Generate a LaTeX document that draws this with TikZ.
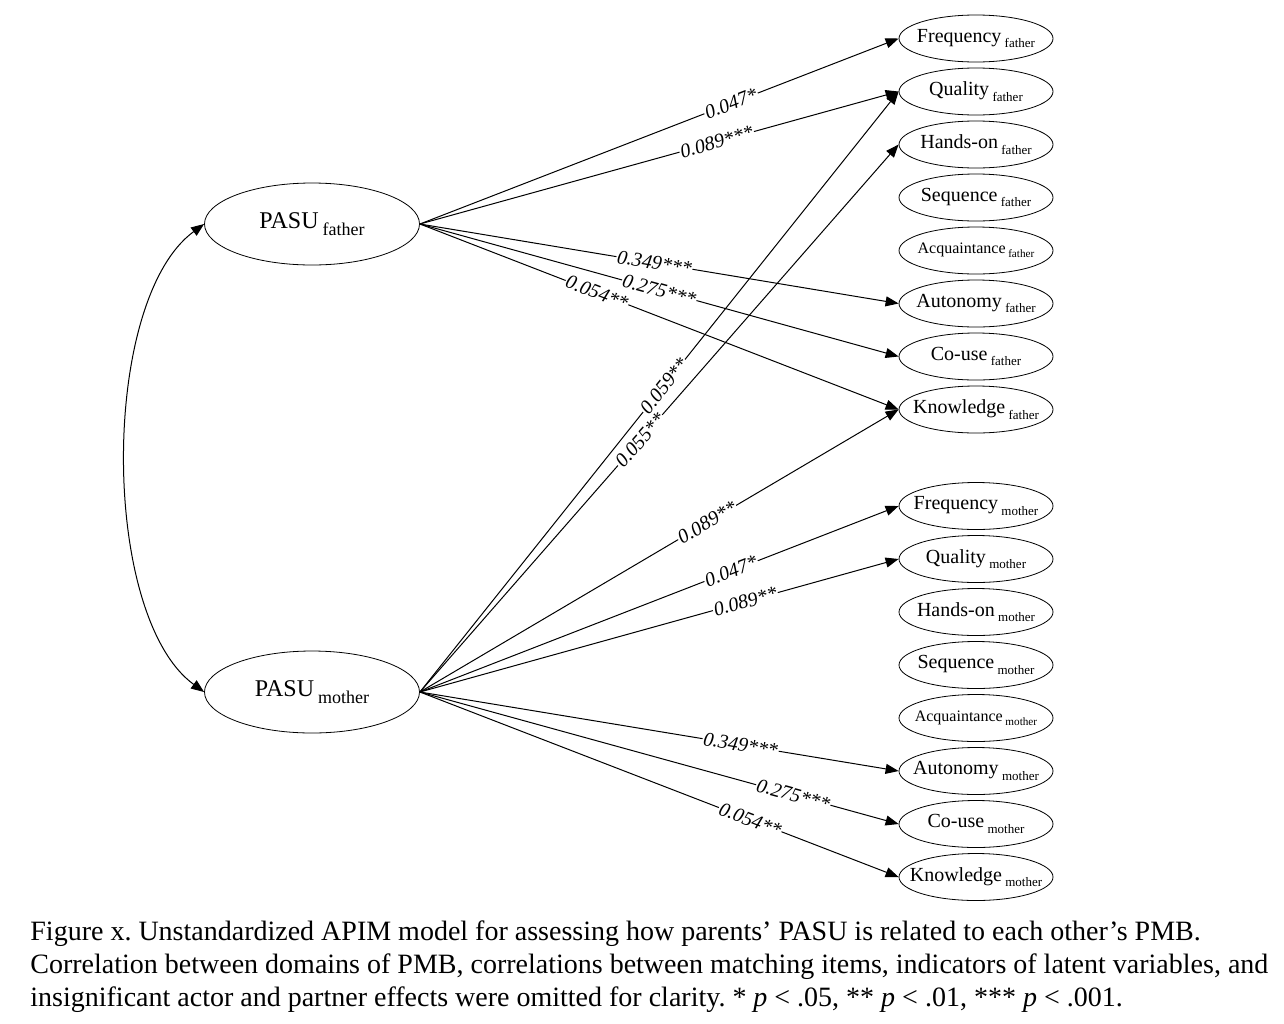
\documentclass[tikz,border=0pt]{standalone}
\usepackage{fontspec}
\setmainfont{Liberation Serif}
\usetikzlibrary{arrows.meta,shapes.geometric}

% lowered group tag after a variable name
\newcommand{\grp}[2][6.5pt]{\,\raisebox{-0.6ex}{\fontsize{#1}{#1}\selectfont #2}}
% item text that does not widen its ellipse
\newcommand{\itemtext}[1]{\makebox[0pt]{#1}}

\begin{document}
\begin{tikzpicture}[x=0.5pt,y=-0.5pt,
  latent/.style={draw,ellipse,inner sep=0pt,minimum width=107.5pt,minimum height=41pt,font=\fontsize{12pt}{14pt}\selectfont},
  item/.style={draw,ellipse,inner sep=0pt,minimum width=77pt,minimum height=23.5pt,font=\fontsize{10pt}{12pt}\selectfont},
  effect/.style={-{Triangle[length=6.5pt,width=5pt]},line width=0.5pt},
  coef/.style={sloped,fill=white,inner sep=0.5pt,font=\fontsize{10pt}{12pt}\selectfont\itshape}]
\useasboundingbox (0,0) rectangle (1284,1023);

% latent variables
\node[latent] (pf) at (312,224) {PASU\grp[9pt]{father}};
\node[latent] (pm) at (312,692) {PASU\grp[9pt]{mother}};

% father items
\node[item] (ffreq) at (976,38.5) {\itemtext{Frequency\grp{father}}};
\node[item] (fqual) at (976,91.5) {\itemtext{Quality\grp{father}}};
\node[item] (fhand) at (976,144.5) {\itemtext{Hands-on\grp{father}}};
\node[item] (fseq) at (976,197.5) {\itemtext{Sequence\grp{father}}};
\node[item,font=\fontsize{8pt}{10pt}\selectfont] (facq) at (976,250.5) {\itemtext{Acquaintance\grp[5.6pt]{father}}};
\node[item] (faut) at (976,303.5) {\itemtext{Autonomy\grp{father}}};
\node[item] (fcou) at (976,356.5) {\itemtext{Co-use\grp{father}}};
\node[item] (fkno) at (976,409.5) {\itemtext{Knowledge\grp{father}}};

% mother items
\node[item] (mfreq) at (976,506) {\itemtext{Frequency\grp{mother}}};
\node[item] (mqual) at (976,559) {\itemtext{Quality\grp{mother}}};
\node[item] (mhand) at (976,612) {\itemtext{Hands-on\grp{mother}}};
\node[item] (mseq) at (976,665) {\itemtext{Sequence\grp{mother}}};
\node[item,font=\fontsize{8pt}{10pt}\selectfont] (macq) at (976,718) {\itemtext{Acquaintance\grp[5.6pt]{mother}}};
\node[item] (maut) at (976,771) {\itemtext{Autonomy\grp{mother}}};
\node[item] (mcou) at (976,824) {\itemtext{Co-use\grp{mother}}};
\node[item] (mkno) at (976,877) {\itemtext{Knowledge\grp{mother}}};

% correlation
\draw[{Triangle[length=6.5pt,width=5pt]}-{Triangle[length=6.5pt,width=5pt]},line width=0.5pt]
  (pf.west) .. controls (100,300) and (100,616) .. (pm.west);

% father effects
\draw[effect] (pf.east) -- node[coef,pos=.65] {0.047*} (ffreq.west);
\draw[effect] (pf.east) -- node[coef,pos=.62] {0.089***} (fqual.west);
\draw[effect] (pf.east) -- node[coef,pos=.49] {0.349***} (faut.west);
\draw[effect] (pf.east) -- node[coef,pos=.5] {0.275***} (fcou.west);
\draw[effect] (pf.east) -- node[coef,pos=.37] {0.054**} (fkno.west);

% mother effects
\draw[effect] (pm.east) -- node[coef,pos=.51] {0.059**} (fqual.west);
\draw[effect] (pm.east) -- node[coef,pos=.46] {0.055**} (fhand.west);
\draw[effect] (pm.east) -- node[coef,pos=.6] {0.089**} (fkno.west);
\draw[effect] (pm.east) -- node[coef,pos=.65] {0.047*} (mfreq.west);
\draw[effect] (pm.east) -- node[coef,pos=.68] {0.089**} (mqual.west);
\draw[effect] (pm.east) -- node[coef,pos=.67] {0.349***} (maut.west);
\draw[effect] (pm.east) -- node[coef,pos=.78] {0.275***} (mcou.west);
\draw[effect] (pm.east) -- node[coef,pos=.69] {0.054**} (mkno.west);

% caption
\node[anchor=north west,inner sep=0pt,align=left,font=\fontsize{14pt}{16.5pt}\selectfont\frenchspacing] (caption) at (30,920)
  {Figure x. Unstandardized APIM model for assessing how parents’ PASU is related to each other’s PMB.\\
   Correlation between domains of PMB, correlations between matching items, indicators of latent variables, and\\
   insignificant actor and partner effects were omitted for clarity. * \textit{p} < .05, ** \textit{p} < .01, *** \textit{p} < .001.};
\end{tikzpicture}
\end{document}
